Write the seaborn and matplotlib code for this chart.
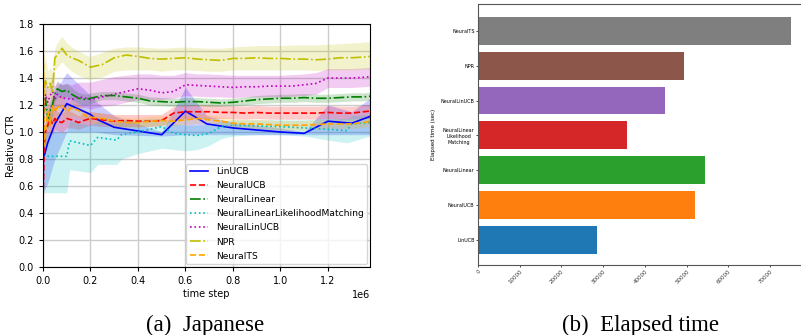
import numpy as np
import matplotlib
matplotlib.use("Agg")
import matplotlib.pyplot as plt
import seaborn as sns

# ---- data (time step in units of 1e6) ----
t_grid = [0, .005, .01, .02, .03, .04, .05, .06, .08, .1, .12, .15, .18, .2, .25, .3, .35, .4, .45,
          .5, .55, .6, .65, .7, .75, .8, .85, .9, .95, 1.0, 1.05, 1.1, 1.15, 1.2, 1.25, 1.3, 1.35, 1.377]

npr = [1.40, 1.30, 1.38, 1.33, 1.36, 1.30, 1.55, 1.57, 1.62, 1.57, 1.55, 1.53, 1.50, 1.48, 1.50, 1.55, 1.57, 1.56, 1.545,
       1.54, 1.545, 1.55, 1.54, 1.535, 1.53, 1.545, 1.545, 1.55, 1.545, 1.545, 1.54, 1.54, 1.535, 1.54, 1.55, 1.55, 1.555, 1.56]
npr_lo = [1.15, 1.15, 1.20, 1.22, 1.25, 1.22, 1.45, 1.48, 1.52, 1.48, 1.45, 1.42, 1.40, 1.39, 1.41, 1.45, 1.46, 1.46, 1.46,
          1.45, 1.46, 1.46, 1.455, 1.45, 1.45, 1.46, 1.46, 1.46, 1.46, 1.46, 1.46, 1.46, 1.455, 1.46, 1.46, 1.46, 1.465, 1.465]
npr_hi = [1.60, 1.50, 1.55, 1.45, 1.48, 1.45, 1.62, 1.66, 1.71, 1.66, 1.63, 1.60, 1.57, 1.56, 1.59, 1.62, 1.63, 1.63, 1.625,
          1.62, 1.625, 1.63, 1.625, 1.62, 1.62, 1.63, 1.635, 1.64, 1.64, 1.64, 1.645, 1.645, 1.645, 1.65, 1.655, 1.66, 1.665, 1.67]

neural_linucb = [0.45, 1.20, 1.28, 1.22, 1.27, 1.30, 1.24, 1.28, 1.25, 1.25, 1.24, 1.26, 1.25, 1.24, 1.26, 1.28, 1.30, 1.32, 1.31,
                 1.29, 1.30, 1.35, 1.345, 1.34, 1.335, 1.33, 1.335, 1.335, 1.34, 1.34, 1.34, 1.35, 1.36, 1.40, 1.40, 1.40, 1.405, 1.41]
neural_linucb_lo = [0.40, 1.05, 1.15, 1.12, 1.17, 1.20, 1.15, 1.19, 1.17, 1.17, 1.17, 1.18, 1.18, 1.17, 1.19, 1.20, 1.22, 1.24, 1.24,
                    1.24, 1.25, 1.27, 1.265, 1.26, 1.26, 1.255, 1.26, 1.26, 1.26, 1.26, 1.265, 1.27, 1.28, 1.33, 1.33, 1.33, 1.335, 1.34]
neural_linucb_hi = [0.50, 1.35, 1.40, 1.32, 1.37, 1.40, 1.34, 1.38, 1.35, 1.36, 1.35, 1.37, 1.37, 1.37, 1.39, 1.41, 1.42, 1.43, 1.43,
                    1.42, 1.42, 1.44, 1.43, 1.43, 1.425, 1.42, 1.42, 1.42, 1.42, 1.42, 1.425, 1.43, 1.44, 1.47, 1.47, 1.47, 1.475, 1.48]

neural_linear = [1.20, 1.15, 1.25, 1.10, 1.15, 1.20, 1.28, 1.32, 1.30, 1.31, 1.28, 1.25, 1.24, 1.25, 1.27, 1.27, 1.26, 1.25, 1.23,
                 1.225, 1.22, 1.225, 1.225, 1.22, 1.215, 1.22, 1.23, 1.24, 1.245, 1.25, 1.25, 1.255, 1.25, 1.25, 1.255, 1.26, 1.26, 1.265]
neural_linear_lo = [1.10, 1.05, 1.15, 1.02, 1.07, 1.12, 1.22, 1.26, 1.25, 1.26, 1.24, 1.21, 1.20, 1.21, 1.24, 1.24, 1.23, 1.22, 1.20,
                    1.195, 1.19, 1.195, 1.195, 1.19, 1.19, 1.195, 1.20, 1.21, 1.215, 1.22, 1.22, 1.225, 1.22, 1.22, 1.225, 1.23, 1.23, 1.235]
neural_linear_hi = [1.30, 1.25, 1.33, 1.20, 1.24, 1.28, 1.34, 1.37, 1.35, 1.36, 1.33, 1.29, 1.28, 1.29, 1.30, 1.30, 1.29, 1.28, 1.26,
                    1.255, 1.25, 1.255, 1.255, 1.25, 1.245, 1.25, 1.26, 1.27, 1.275, 1.28, 1.28, 1.285, 1.28, 1.28, 1.285, 1.29, 1.29, 1.295]

neural_ucb = [0.45, 0.90, 1.00, 1.05, 1.10, 1.06, 1.10, 1.08, 1.07, 1.10, 1.09, 1.07, 1.09, 1.10, 1.09, 1.08, 1.085, 1.08, 1.08,
              1.085, 1.14, 1.15, 1.15, 1.15, 1.145, 1.145, 1.14, 1.145, 1.14, 1.14, 1.14, 1.14, 1.14, 1.145, 1.14, 1.14, 1.15, 1.155]
neural_ucb_lo = [0.40, 0.80, 0.90, 0.95, 1.00, 0.98, 1.02, 1.01, 1.00, 1.03, 1.03, 1.02, 1.04, 1.05, 1.04, 1.04, 1.04, 1.04, 1.04,
                 1.045, 1.09, 1.10, 1.10, 1.10, 1.10, 1.10, 1.095, 1.10, 1.095, 1.095, 1.095, 1.095, 1.095, 1.10, 1.095, 1.095, 1.10, 1.10]
neural_ucb_hi = [0.50, 1.00, 1.10, 1.15, 1.20, 1.14, 1.18, 1.15, 1.14, 1.17, 1.15, 1.12, 1.14, 1.15, 1.14, 1.13, 1.13, 1.13, 1.13,
                 1.13, 1.19, 1.20, 1.20, 1.20, 1.195, 1.195, 1.19, 1.195, 1.19, 1.19, 1.19, 1.19, 1.19, 1.195, 1.19, 1.19, 1.20, 1.205]

neural_ts = [1.90, 0.90, 1.00, 1.15, 1.05, 1.20, 1.15, 1.18, 1.20, 1.15, 1.18, 1.16, 1.12, 1.11, 1.10, 1.08, 1.07, 1.07, 1.08,
             1.085, 1.08, 1.09, 1.10, 1.09, 1.08, 1.065, 1.06, 1.06, 1.055, 1.05, 1.05, 1.05, 1.055, 1.06, 1.06, 1.06, 1.07, 1.08]
neural_ts_lo = [1.70, 0.80, 0.90, 1.05, 0.97, 1.10, 1.07, 1.10, 1.13, 1.09, 1.12, 1.11, 1.08, 1.07, 1.06, 1.04, 1.035, 1.035, 1.045,
                1.05, 1.045, 1.055, 1.065, 1.055, 1.045, 1.03, 1.025, 1.025, 1.02, 1.015, 1.015, 1.015, 1.02, 1.025, 1.025, 1.025, 1.035, 1.045]
neural_ts_hi = [2.00, 1.00, 1.10, 1.25, 1.13, 1.28, 1.23, 1.26, 1.27, 1.21, 1.24, 1.21, 1.16, 1.15, 1.14, 1.12, 1.105, 1.105, 1.115,
                1.12, 1.115, 1.125, 1.135, 1.125, 1.115, 1.10, 1.095, 1.095, 1.09, 1.085, 1.085, 1.085, 1.09, 1.095, 1.095, 1.095, 1.105, 1.115]

t_lin = [0, .02, .05, .1, .2, .22, .3, .5, .6, .69, .8, 1.0, 1.1, 1.2, 1.3, 1.377]
lin_ucb = [0.79, 0.92, 1.06, 1.21, 1.13, 1.10, 1.035, 0.98, 1.155, 1.06, 1.03, 1.00, 0.99, 1.08, 1.065, 1.115]
lin_ucb_lo = [0.55, 0.62, 0.80, 1.00, 1.00, 1.00, 0.98, 0.97, 0.98, 0.98, 0.98, 0.98, 0.98, 0.98, 0.98, 0.98]
lin_ucb_hi = [1.00, 1.15, 1.30, 1.44, 1.27, 1.23, 1.12, 1.00, 1.33, 1.12, 1.07, 1.03, 1.00, 1.20, 1.15, 1.25]

t_nllm = [0, .1, .112, .2, .23, .31, .33, .4, .45, .5, .55, .6, .65, .7, .75, .8, .9, 1.0, 1.1, 1.2, 1.28, 1.3, 1.377]
nllm = [0.82, 0.82, 0.935, 0.90, 0.96, 0.94, 0.98, 1.00, 1.02, 1.04, 0.99, 0.98, 0.975, 0.99, 1.04, 1.05, 1.045, 1.04, 1.03,
        1.02, 1.01, 1.06, 1.07]
nllm_lo = [0.55, 0.55, 0.72, 0.70, 0.76, 0.76, 0.80, 0.84, 0.86, 0.88, 0.87, 0.86, 0.87, 0.90, 0.95, 0.97, 0.98, 0.98, 0.97,
           0.94, 0.92, 0.93, 0.97]
nllm_hi = [1.00, 1.00, 1.08, 1.05, 1.08, 1.06, 1.08, 1.09, 1.10, 1.10, 1.06, 1.05, 1.05, 1.06, 1.08, 1.09, 1.09, 1.09, 1.09,
           1.10, 1.10, 1.12, 1.13]

methods = ["NeuralTS", "NPR", "NeuralLinUCB", "NeuralLinear\nLikelihood\nMatching", "NeuralLinear", "NeuralUCB", "LinUCB"]
elapsed = [75000, 49300, 44900, 35800, 54500, 51900, 28400]
bar_colors = ["tab:gray", "tab:brown", "tab:purple", "tab:red", "tab:green", "tab:orange", "tab:blue"]

# ---- figure ----
W, H = 801, 335
fig = plt.figure(figsize=(W / 100, H / 100), dpi=100)
ax = fig.add_axes([43 / W, 1 - 267 / H, (370 - 43) / W, (267 - 24) / H])
ax2 = fig.add_axes([478 / W, 1 - 265 / H, (W - 478) / W, (265 - 4) / H])

series = [
    ("LinUCB", t_lin, lin_ucb, lin_ucb_lo, lin_ucb_hi, "b", "-"),
    ("NeuralUCB", t_grid, neural_ucb, neural_ucb_lo, neural_ucb_hi, "r", "--"),
    ("NeuralLinear", t_grid, neural_linear, neural_linear_lo, neural_linear_hi, "g", "-."),
    ("NeuralLinearLikelihoodMatching", t_nllm, nllm, nllm_lo, nllm_hi, "c", ":"),
    ("NeuralLinUCB", t_grid, neural_linucb, neural_linucb_lo, neural_linucb_hi, "m", ":"),
    ("NPR", t_grid, npr, npr_lo, npr_hi, "y", "-."),
    ("NeuralTS", t_grid, neural_ts, neural_ts_lo, neural_ts_hi, "orange", "--"),
]
for name, t, y, lo, hi, c, ls in series:
    x = np.array(t) * 1e6
    ax.fill_between(x, lo, hi, color=c, alpha=0.2, linewidth=0)
    sns.lineplot(x=x, y=y, ax=ax, color=c, linestyle=ls, linewidth=1.2, label=name, sort=False)

ax.set_xlim(0, 1.377e6)
ax.set_ylim(0, 1.8)
ax.set_yticks(np.arange(0, 1.81, 0.2))
ax.set_xticks(np.arange(0, 1.21e6, 0.2e6))
ax.grid(True, color="#cccccc", linewidth=1)
ax.set_axisbelow(True)
ax.tick_params(labelsize=7, length=3)
ax.xaxis.get_offset_text().set_fontsize(7)
ax.set_xlabel("time step", fontsize=7, labelpad=2)
ax.set_ylabel("Relative CTR", fontsize=7, labelpad=2)
ax.legend(loc="lower right", fontsize=6.6, handlelength=2, labelspacing=0.55, borderaxespad=0.3)

# ---- elapsed time bars ----
sns.barplot(x=elapsed, y=methods, hue=methods, palette=bar_colors, legend=False,
            orient="h", width=0.8, saturation=1, ax=ax2)
ax2.set_xlim(0, 77400)
ax2.set_ylim(6.72, -0.77)
ax2.set_xticks(np.arange(0, 70001, 10000))
ax2.tick_params(axis="x", labelsize=4, length=1.5, width=0.5, pad=1, labelcolor="#333333")
ax2.tick_params(axis="y", labelsize=3.5, length=1.5, width=0.5, pad=1)
for lab in ax2.get_yticklabels():
    lab.set_multialignment("center")
for lab in ax2.get_xticklabels():
    lab.set_rotation(45)
    lab.set_ha("right")
    lab.set_rotation_mode("anchor")
ax2.set_ylabel("Elapsed time (sec)", fontsize=4, labelpad=3)
ax2.set_xlabel("")
for s in ["left", "top", "bottom"]:
    ax2.spines[s].set_color("#555555")
ax2.spines["right"].set_visible(False)

fig.text(205 / W, 1 - 325 / H, "(a)  Japanese", ha="center", va="center",
         fontsize=16.5, family="Liberation Serif")
fig.text(641 / W, 1 - 325 / H, "(b)  Elapsed time", ha="center", va="center",
         fontsize=16.5, family="Liberation Serif")

fig.savefig("out.png", dpi=100)
